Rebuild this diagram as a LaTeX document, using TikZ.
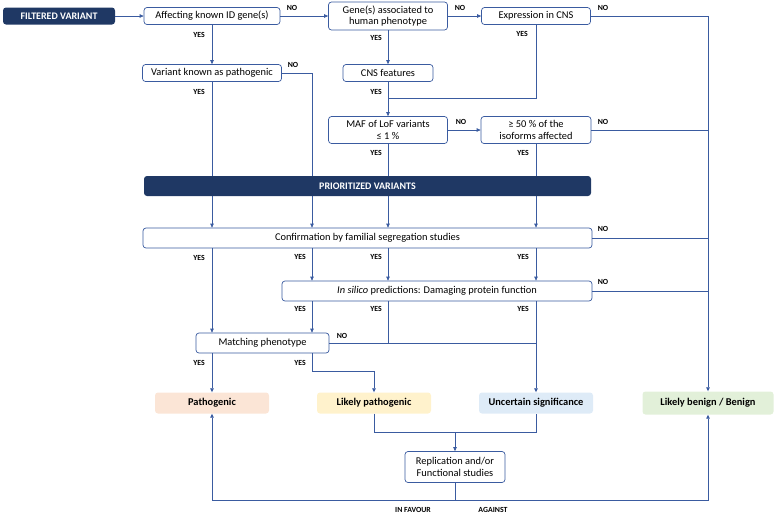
\documentclass[tikz,border=0pt]{standalone}
\usepackage{fontspec}
\setmainfont{Carlito}
\usetikzlibrary{arrows.meta}
\definecolor{navy}{HTML}{1F3864}
\definecolor{flow}{HTML}{3A5BA0}
\definecolor{peach}{HTML}{FBE5D6}
\definecolor{cream}{HTML}{FFF2CC}
\definecolor{sky}{HTML}{DEEBF7}
\definecolor{mint}{HTML}{E2F0D9}
\begin{document}
\begin{tikzpicture}[x=1pt,y=-1pt]
  \tikzstyle{every node}=[font=\fontsize{10.4}{11.6}\selectfont]
  \tikzstyle{box}=[draw=flow,line width=0.7pt,rounded corners=3pt,fill=white,align=center,inner sep=0pt]
  \tikzstyle{dark}=[fill=navy,rounded corners=3pt,text=white,font=\fontsize{10}{11}\selectfont\bfseries,inner sep=0pt]
  \tikzstyle{result}=[rounded corners=3pt,font=\fontsize{10.4}{11.6}\selectfont\bfseries,inner sep=0pt,minimum width=114,minimum height=21]
  \tikzstyle{lbl}=[font=\fontsize{7.8}{8.5}\selectfont\bfseries,inner sep=0pt]
  \tikzstyle{arr}=[draw=flow,line width=0.7pt,-{Triangle[length=4pt,width=3.5pt]}]
  \tikzstyle{wire}=[draw=flow,line width=0.7pt]
  \useasboundingbox (0,0) rectangle (777,515);
  % columns
  \coordinate (colA) at (212,0);
  \coordinate (colB) at (312,0);
  \coordinate (colC) at (388,0);
  \coordinate (colD) at (536,0);
  % decision boxes
  \node[dark,minimum width=112,minimum height=17] (filt) at (59,16) {FILTERED VARIANT};
  \node[box,minimum width=136,minimum height=17] (affect) at (212,16) {Affecting known ID gene(s)};
  \node[box,minimum width=119,minimum height=28] (gene) at (388,16) {Gene(s) associated to\\human phenotype};
  \node[box,minimum width=109,minimum height=17] (expr) at (536,16) {Expression in CNS};
  \node[box,minimum width=139,minimum height=17] (known) at (212,73) {Variant known as pathogenic};
  \node[box,minimum width=90,minimum height=17] (cns) at (388,73) {CNS features};
  \node[box,minimum width=119,minimum height=27] (maf) at (388,130) {MAF of LoF variants\\≤ 1 \%};
  \node[box,minimum width=110,minimum height=27] (iso) at (536,130) {≥ 50 \% of the\\isoforms affected};
  \node[box,minimum width=449,minimum height=20] (confirm) at (367.5,238) {Confirmation by familial segregation studies};
  \node[box,minimum width=310,minimum height=20] (insil) at (437,291) {\textit{In silico} predictions: Damaging protein function};
  \node[box,minimum width=133,minimum height=20] (match) at (262.5,343) {Matching phenotype};
  \node[box,minimum width=100,minimum height=31] (repl) at (455,467) {Replication and/or\\Functional studies};
  % outcomes
  \node[result,fill=peach] (patho) at (212,403) {Pathogenic};
  \node[result,fill=cream] (likely) at (374,403) {Likely pathogenic};
  \node[result,fill=sky] (uncert) at (536,403) {Uncertain significance};
  \node[result,fill=mint,minimum width=131,minimum height=23] (benign) at (708,403) {Likely benign / Benign};
  % connectors
  \draw[arr] (filt) -- (affect);
  \draw[arr] (affect.east) -- (affect.east -| gene.west);
  \draw[arr] (gene.east |- expr.west) -- (expr.west);
  \draw[arr] (expr.east) -| (benign.north);
  \draw[arr] (affect.south) -- (known.north);
  \draw[arr] (gene.south) -- (cns.north);
  \draw[wire] (expr.south) |- (colC |- 0,98);
  \draw[arr] (cns.south) -- (maf.north);
  \draw[arr] (known.east) -| (colB |- confirm.north);
  \draw[arr] (known.south) -- (colA |- confirm.north);
  \draw[arr] (maf.east) -- (iso.west);
  \draw[wire] (iso.east) -- (iso.east -| benign.north);
  \draw[arr] (maf.south) -- (colC |- confirm.north);
  \draw[arr] (iso.south) -- (colD |- confirm.north);
  \draw[wire] (confirm.east) -- (confirm.east -| benign.north);
  \draw[arr] (colA |- confirm.south) -- (colA |- match.north);
  \draw[arr] (colB |- confirm.south) -- (colB |- insil.north);
  \draw[arr] (colC |- confirm.south) -- (colC |- insil.north);
  \draw[arr] (colD |- confirm.south) -- (colD |- insil.north);
  \draw[wire] (insil.east) -- (insil.east -| benign.north);
  \draw[arr] (colB |- insil.south) -- (colB |- match.north);
  \draw[wire] (colC |- insil.south) -- (colC |- match.east);
  \draw[arr] (colD |- insil.south) -- (uncert.north);
  \draw[wire] (match.east) -- (match.east -| colD);
  \draw[arr] (colA |- match.south) -- (patho.north);
  \draw[arr] (colB |- match.south) -- ++(0,18) -| (likely.north);
  \draw[wire] (likely.south) -- ++(0,19) -| (uncert.south);
  \draw[arr] (repl.north |- 0,432) -- (repl.north);
  \draw[arr] (repl.south) -- ++(0,17) -| (patho.south);
  \draw[arr] (repl.south) ++(0,17) -| (benign.south);
  % bar on top of the lines
  \node[dark,minimum width=447,minimum height=20] (prio) at (367.5,186) {PRIORITIZED VARIANTS};
  % yes / no labels
  \node[lbl] (n1) at (292,8) {NO};
  \node[lbl] (n2) at (460,8) {NO};
  \node[lbl] (n3) at (603,8) {NO};
  \node[lbl] (n4) at (293,65) {NO};
  \node[lbl] (n5) at (461,122) {NO};
  \node[lbl] (n6) at (603,122) {NO};
  \node[lbl] (n7) at (603,229) {NO};
  \node[lbl] (n8) at (603,282) {NO};
  \node[lbl] (n9) at (342,336) {NO};
  \node[lbl] (y1) at (199,35) {YES};
  \node[lbl] (y2) at (376,38) {YES};
  \node[lbl] (y3) at (522,34) {YES};
  \node[lbl] (y4) at (199,92) {YES};
  \node[lbl] (y5) at (376,92) {YES};
  \node[lbl] (y6) at (376,153) {YES};
  \node[lbl] (y7) at (523,153) {YES};
  \node[lbl] (y8) at (199,258) {YES};
  \node[lbl] (y9) at (300,257) {YES};
  \node[lbl] (y10) at (376,257) {YES};
  \node[lbl] (y11) at (523,257) {YES};
  \node[lbl] (y12) at (300,309) {YES};
  \node[lbl] (y13) at (376,309) {YES};
  \node[lbl] (y14) at (523,309) {YES};
  \node[lbl] (y15) at (199,363) {YES};
  \node[lbl] (y16) at (300,363) {YES};
  \node[lbl] (fav) at (413,510) {IN FAVOUR};
  \node[lbl] (agn) at (493,510) {AGAINST};
\end{tikzpicture}
\end{document}
